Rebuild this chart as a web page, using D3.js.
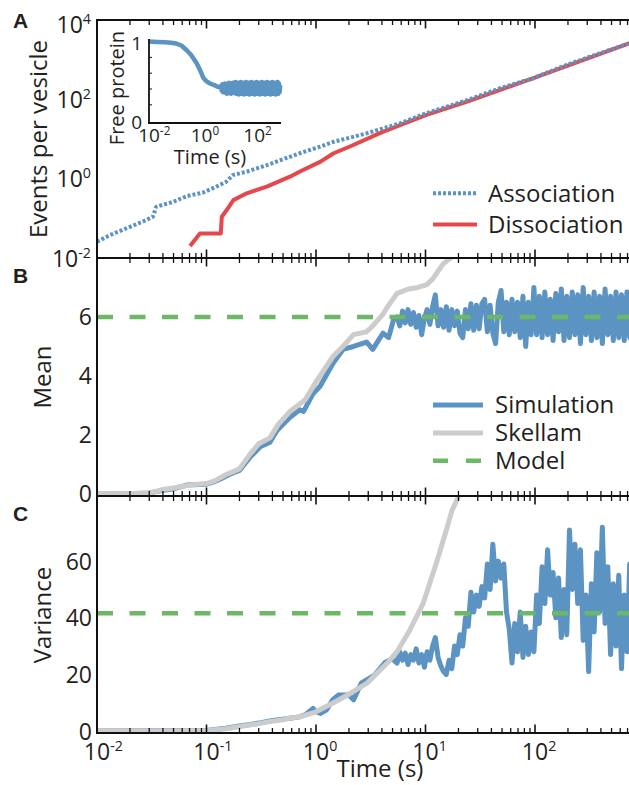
<!DOCTYPE html>
<html><head><meta charset="utf-8">
<script src="https://cdn.jsdelivr.net/npm/d3@7"></script>
<style>
body{margin:0;background:#fff;}
svg{display:block;font-family:"Open Sans",sans-serif;}
</style></head><body>
<svg id="c" width="629" height="785"></svg>
<script>
// ---------------- DATA ----------------
// Panel A: cumulative events per vesicle
const assocTime  = [0.01,0.0132,0.0186,0.0263,0.0324,0.0347,0.0501,0.0661,0.0933,0.123,0.151,0.174,0.234,0.355,0.501,0.708,1.10,1.45,2.88,5.89,10.2,24.0,47.9,95.5,195,389,724,1000];
const assocValue = [0.0257,0.038,0.0562,0.0832,0.110,0.195,0.263,0.363,0.447,0.631,0.832,1.23,1.51,2.19,3.09,4.37,6.46,8.51,13.8,25.1,44.7,95.5,191,339,741,1445,2570,3550];
const dissocTime  = [0.0708,0.0871,0.135,0.138,0.153,0.176,0.233,0.355,0.579,0.714,1.10,1.45,2.04,4.07,10.2,24.0,95.5,724,1000];
const dissocValue = [0.020,0.0417,0.0417,0.110,0.162,0.288,0.427,0.631,1.12,1.51,2.69,4.37,6.46,15.1,40.7,87.1,339,2570,3550];

// shared sampling times for the noisy late parts (s)
const tailTime = [5.50,5.82,6.17,6.53,6.92,7.33,7.76,8.22,8.71,9.23,
  9.77,10.35,10.96,11.61,12.30,13.03,13.80,14.62,15.49,16.41,
  17.38,18.41,19.50,20.65,21.88,23.17,24.55,26.00,27.54,29.17,
  30.90,32.73,34.67,36.73,38.90,41.21,43.65,46.24,48.98,51.88,
  54.95,58.21,61.66,65.31,69.18,73.28,77.62,82.22,87.10,92.26,
  97.72,103.5,109.6,116.1,123.0,130.3,138.0,146.2,154.9,164.1,
  173.8,184.1,195.0,206.5,218.8,231.7,245.5,260.0,275.4,291.7,
  309.0,327.3,346.7,367.3,389.0,412.1,436.5,462.4,489.8,518.8,
  549.5,582.1,616.6,653.1,691.8,732.8,776.2,822.2,871.0,922.6,
  977.2];

// Inset: free protein fraction
const freeEarlyTime  = [0.01,0.02,0.04,0.07,0.11,0.17,0.27,0.4,0.65,0.9,1.17,1.5,2.1,3.0,4.0,5.0];
const freeEarlyValue = [1.0,0.995,0.99,0.985,0.975,0.95,0.89,0.83,0.725,0.63,0.54,0.5,0.47,0.45,0.43,0.42];
const freeTailValue  = [0.44,0.38,0.46,0.36,0.45,0.37,0.47,0.35,0.44,0.34,
  0.46,0.37,0.48,0.35,0.44,0.34,0.47,0.38,0.48,0.35,
  0.45,0.36,0.49,0.34,0.46,0.37,0.48,0.33,0.45,0.38,
  0.49,0.34,0.44,0.36,0.48,0.33,0.46,0.37,0.49,0.34,
  0.45,0.36,0.48,0.33,0.44,0.38,0.49,0.34,0.46,0.36,
  0.48,0.33,0.47,0.37,0.49,0.34,0.44,0.36,0.48,0.33,
  0.46,0.38,0.49,0.34,0.47,0.36,0.48,0.33,0.45,0.37,
  0.49,0.34,0.46,0.36,0.48,0.33,0.47,0.38,0.49,0.34,
  0.44,0.36,0.48,0.33,0.46,0.37,0.49,0.34,0.47,0.36,
  0.45];

// Panel B: mean
const meanSimEarlyTime  = [0.01,0.02,0.03,0.04,0.05,0.066,0.1,0.115,0.133,0.16,0.176,0.2,0.25,0.31,0.38,0.44,0.58,0.71,0.77,0.94,1.09,1.43,1.76,2.2,2.9,3.3,3.7,4.1,4.6,5.1];
const meanSimEarlyValue = [0.0,0.01,0.03,0.12,0.17,0.3,0.33,0.4,0.5,0.65,0.72,0.8,1.25,1.6,1.75,2.15,2.6,2.85,2.8,3.4,3.65,4.43,4.9,5.0,5.15,4.9,5.2,5.45,5.3,5.9];
const meanSimTailValue  = [6.0,5.7,6.2,5.8,6.25,5.75,6.15,5.65,6.05,5.4,
  5.95,6.25,5.75,6.35,6.75,5.7,6.25,5.65,6.35,5.55,
  6.25,5.7,6.2,5.45,5.3,6.25,5.6,6.45,5.55,6.4,
  5.6,6.45,6.6,5.5,6.4,5.45,5.1,6.5,6.9,5.5,
  6.5,5.4,6.6,5.5,6.5,5.3,6.7,5.0,6.5,5.4,
  7.0,5.4,6.7,5.3,6.85,5.4,6.6,5.2,6.8,5.5,
  6.95,5.2,6.7,5.3,6.85,5.4,6.75,5.1,7.0,5.4,
  6.7,5.2,6.85,5.3,6.7,5.1,6.95,5.4,6.7,5.2,
  6.85,5.3,6.75,5.2,6.85,5.3,6.75,5.4,6.7,5.3,
  6.6];
const meanSkellamTime  = [0.01,0.03,0.04,0.05,0.07,0.1,0.12,0.15,0.2,0.25,0.3,0.38,0.45,0.58,0.71,0.8,1.0,1.43,1.76,2.2,2.9,3.3,4.1,4.6,5.5,7.0,8.5,10.3,11.7,13.0,14.5,17.6,20.0];
const meanSkellamValue = [0.0,0.02,0.15,0.2,0.3,0.35,0.45,0.65,0.85,1.35,1.7,1.9,2.35,2.8,3.05,3.2,3.8,4.66,5.0,5.4,5.5,5.7,6.1,6.4,6.8,6.95,7.0,7.1,7.3,7.55,7.8,8.05,8.4];
const meanModel = 6;

// Panel C: variance
const varSimEarlyTime  = [0.01,0.05,0.1,0.15,0.2,0.25,0.3,0.4,0.5,0.6,0.71,0.8,0.94,1.0,1.1,1.25,1.42,1.6,2.0,2.2,2.6,3.4,4.3,5.0];
const varSimEarlyValue = [0,0.1,0.2,1.0,1.8,2.3,2.8,3.7,4.2,4.6,5.0,5.8,8.0,6.8,6.2,7.5,11,12.7,12.7,11,17,19.6,24.3,25.5];
const varSimTailValue  = [24,28,25,27.5,23.5,27,25,29,24,27,
  22.5,28,25,30,33,26,23,21,20,25,
  22,30,27,34,30,40,37,49,42,48,
  44,51,47,59,50,66,53,60,54,59,
  42,36,24,38,28,42,26,37,27,35,
  28,48,38,58,45,64,48,56,40,54,
  33,50,34,71,50,66,45,64,32,48,
  21,52,35,63,42,72,38,58,27,52,
  30,55,22,48,28,59,30,55,28,62,
  38];
const varSkellamTime  = [0.01,0.05,0.1,0.15,0.2,0.3,0.4,0.5,0.58,0.71,1.0,1.43,2.0,2.95,4.47,5.5,7.2,9.5,12.6,15.5,17.5,20.4];
const varSkellamValue = [0,0.05,0.2,0.8,1.6,2.6,3.5,4.0,4.6,5.0,6.8,9.9,13,17,24,28,35.7,45,59.4,71,78,83.5];
const varModel = 41.6;

// ticks / labels
const xMajorTicks = [0.01,0.1,1,10,100,1000];
const xTickExp    = ["-2","-1","0","1","2","3"];
const yATicks = [0.01,1,100,10000];
const yAExp   = ["-2","0","2","4"];
const yBTicks = [0,2,4,6];
const yCTicks = [0,20,40,60];
const insetXTicks = [0.01,1,100];
const insetXExp   = ["-2","0","2"];
const insetYTicks = [0,1];
const legendA = ["Association","Dissociation"];
const legendB = ["Simulation","Skellam","Model"];

// ---------------- DRAW ----------------
const W=629, H=785, L=97, R=644.5;
const blue="#5b93c3", red="#e5484b", gray="#cccccc", green="#6cb866", ink="#231f20";
const svg=d3.select("#c");
const x=d3.scaleLog().domain([0.01,1000]).range([L,R]);
const yA=d3.scaleLog().domain([0.01,1e4]).range([258,20]);
const yB=d3.scaleLinear().domain([-0.07,8]).range([496,258]);
const yC=d3.scaleLinear().domain([-0.7,83]).range([733,496]);

const defs=svg.append("defs");
function clip(id,y0,y1){defs.append("clipPath").attr("id",id).append("rect").attr("x",L).attr("y",y0).attr("width",W-L+30).attr("height",y1-y0);}
clip("cA",20,258); clip("cB",258,496); clip("cC",496,733);

function path(g,data,ys,color,w,dash){
  const line=d3.line().x(d=>x(d[0])).y(d=>ys(d[1]));
  const p=g.append("path").datum(data).attr("d",line).attr("fill","none")
    .attr("stroke",color).attr("stroke-width",w).attr("stroke-linejoin","round");
  if(dash) p.attr("stroke-dasharray",dash);
  return p;
}
// Panel A
const gA=svg.append("g").attr("clip-path","url(#cA)");
path(gA,d3.zip(dissocTime,dissocValue),yA,red,4);
path(gA,d3.zip(assocTime,assocValue),yA,blue,4,"3,2");
// Panel B
const gB=svg.append("g").attr("clip-path","url(#cB)");
path(gB,d3.zip(meanSimEarlyTime.concat(tailTime),meanSimEarlyValue.concat(meanSimTailValue)),yB,blue,5);
path(gB,d3.zip(meanSkellamTime,meanSkellamValue),yB,gray,5);
path(gB,[[0.01,meanModel],[1000,meanModel]],yB,green,4.5,"16,16.5");
// Panel C
const gC=svg.append("g").attr("clip-path","url(#cC)");
path(gC,d3.zip(varSimEarlyTime.concat(tailTime),varSimEarlyValue.concat(varSimTailValue)),yC,blue,5);
path(gC,d3.zip(varSkellamTime,varSkellamValue),yC,gray,5);
path(gC,[[0.01,varModel],[1000,varModel]],yC,green,4.5,"16,16.5");

// x ticks
const minorTicks=[];
xMajorTicks.slice(0,-1).forEach(d=>{for(let m=2;m<10;m++) minorTicks.push(d*m);});
const ax=svg.append("g").attr("stroke","#111");
function ticks(y,up,down){
  xMajorTicks.forEach(v=>ax.append("line").attr("x1",x(v)).attr("x2",x(v)).attr("y1",y-(up?8.5:0)).attr("y2",y+(down?8.5:0)).attr("stroke-width",1.6));
  minorTicks.forEach(v=>ax.append("line").attr("x1",x(v)).attr("x2",x(v)).attr("y1",y-(up?5:0)).attr("y2",y+(down?5:0)).attr("stroke-width",1.3));
}
ticks(20,false,true); ticks(258,true,true); ticks(496,true,true); ticks(733,true,false);
[20,258,496,733].forEach(y=>ax.append("line").attr("x1",L-1).attr("x2",W+5).attr("y1",y).attr("y2",y).attr("stroke-width",2));
ax.append("line").attr("x1",L).attr("x2",L).attr("y1",19).attr("y2",734).attr("stroke-width",2);

function powLabel(g,xp,yp,exp,size,mode){
  const t=g.append("text").attr("y",yp).style("font-size",size+"px").attr("fill",ink);
  const b=t.append("tspan").text("10");
  t.append("tspan").attr("dy",-size*0.38).style("font-size",(size*0.62)+"px").text(exp);
  if(mode==="end"){t.attr("x",xp).attr("text-anchor","end");}
  else{const w=b.node().getComputedTextLength(); t.attr("x",xp-w/2);}
  return t;
}
const lab=svg.append("g");
// bottom x labels
xMajorTicks.forEach((v,i)=>{ if(x(v)<W) powLabel(lab,x(v),760,xTickExp[i],23,"center"); });
lab.append("text").attr("x",380).attr("y",777).attr("text-anchor","middle").style("font-size","24px").attr("fill",ink).text("Time (s)");
// y labels
yATicks.forEach((v,i)=>powLabel(lab,91,Math.max(yA(v)+8.5,33),yAExp[i],23,"end"));
yBTicks.forEach(v=>lab.append("text").attr("x",92).attr("y",yB(v)+8.5).attr("text-anchor","end").style("font-size","23px").attr("fill",ink).text(v));
yCTicks.forEach(v=>lab.append("text").attr("x",92).attr("y",yC(v)+8.5).attr("text-anchor","end").style("font-size","23px").attr("fill",ink).text(v));
// axis titles
function vtitle(xp,yp,txt,size){lab.append("text").attr("transform",`translate(${xp},${yp}) rotate(-90)`).attr("text-anchor","middle").style("font-size",size+"px").attr("fill",ink).text(txt);}
vtitle(47,139,"Events per vesicle",24);
vtitle(51,377,"Mean",24);
vtitle(51,615,"Variance",24);
// panel letters
[["A",28],["B",283],["C",521]].forEach(([s,y])=>lab.append("text").attr("x",13).attr("y",y).style("font-family","'Liberation Sans',Arial,sans-serif").style("font-weight","bold").style("font-size","21px").attr("fill",ink).text(s));

// legends
function legLine(x1,x2,y,color,w,dash){const l=lab.append("line").attr("x1",x1).attr("x2",x2).attr("y1",y).attr("y2",y).attr("stroke",color).attr("stroke-width",w); if(dash) l.attr("stroke-dasharray",dash);}
function legText(xp,y,txt){lab.append("text").attr("x",xp).attr("y",y).style("font-size","24px").attr("fill",ink).text(txt);}
legLine(433,477,193.3,blue,4,"3,2"); legText(488,202,legendA[0]);
legLine(433,477,224.5,red,4); legText(488,233,legendA[1]);
legLine(433,483,405,blue,5); legText(495,413,legendB[0]);
legLine(433,483,433,gray,5); legText(495,441,legendB[1]);
legLine(433,481,460.7,green,4.5,"15,18"); legText(495,469,legendB[2]);

// inset
const xi=d3.scaleLog().domain([0.01,1000]).range([149,280.5]);
const yi=d3.scaleLinear().domain([-0.03,1.02]).range([123,40]);
const ins=svg.append("g");
ins.append("path").datum(d3.zip(freeEarlyTime.concat(tailTime),freeEarlyValue.concat(freeTailValue)))
  .attr("d",d3.line().x(d=>xi(d[0])).y(d=>yi(d[1]))).attr("fill","none").attr("stroke",blue).attr("stroke-width",4.5).attr("stroke-linejoin","round");
ins.append("line").attr("x1",149).attr("x2",149).attr("y1",39).attr("y2",124).attr("stroke","#111").attr("stroke-width",1.8);
ins.append("line").attr("x1",148).attr("x2",281).attr("y1",123).attr("y2",123).attr("stroke","#111").attr("stroke-width",1.8);
[0.2,0.4,0.6,0.8].forEach(v=>ins.append("line").attr("x1",149).attr("x2",152).attr("y1",yi(v)).attr("y2",yi(v)).attr("stroke","#111").attr("stroke-width",1));
insetYTicks.forEach(v=>ins.append("text").attr("x",142).attr("y",yi(v)+8).attr("text-anchor","end").style("font-size","19px").attr("fill",ink).text(v));
insetXTicks.forEach((v,i)=>powLabel(ins,xi(v),142,insetXExp[i],19,"center"));
ins.append("text").attr("x",210).attr("y",164).attr("text-anchor","middle").style("font-size","20px").attr("fill",ink).text("Time (s)");
ins.append("text").attr("transform","translate(124,88) rotate(-90)").attr("text-anchor","middle").style("font-size","20px").attr("fill",ink).text("Free protein");
</script>
</body></html>
